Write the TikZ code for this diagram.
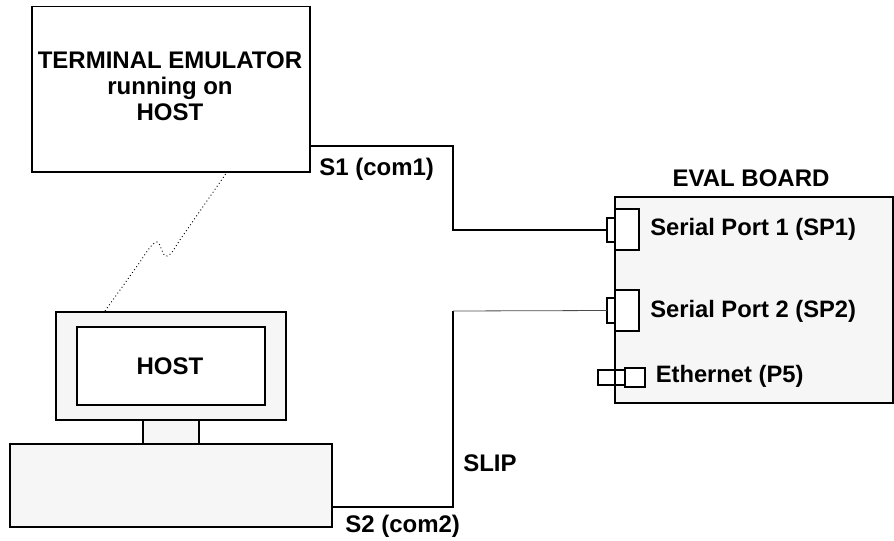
\documentclass[tikz,border=0pt]{standalone}
\usepackage{fontspec}
\setmainfont{Liberation Sans}
\tikzset{
  px/.style={x=0.75pt,y=-0.75pt},
  graybox/.style={draw=black,line width=1pt,fill=black!3.5,inner sep=0pt,outer sep=0pt},
  whitebox/.style={draw=black,line width=1pt,fill=white,inner sep=0pt,outer sep=0pt},
  wire/.style={draw=black,line width=1pt},
  thinwire/.style={draw=black!70,line width=0.6pt},
  lbl/.style={font=\fontsize{18}{19.5}\selectfont\bfseries,inner sep=0pt,text=black},
  lblsm/.style={font=\fontsize{17.8}{19.5}\selectfont\bfseries,inner sep=0pt,text=black},
}
\newcommand{\bx}[6]{\node[#1,minimum width=#4*0.75pt,minimum height=#5*0.75pt,anchor=north west] (#2) at (#3) {#6};}
\begin{document}
\begin{tikzpicture}[px]
\useasboundingbox (0,0) rectangle (894,540);
\bx{whitebox}{term}{32,6.5}{278}{165.5}{}
\bx{graybox}{board}{615,197}{278}{206}{}
\bx{graybox}{mon}{56,312}{230}{108}{}
\bx{whitebox}{screen}{77,327}{188}{78}{}
\bx{graybox}{neck}{143,420}{56}{24}{}
\bx{graybox}{base}{10,444}{322}{83}{}
\bx{whitebox}{smallA}{607,218}{8}{24}{}
\bx{whitebox}{bigA}{615,209}{24}{41}{}
\bx{whitebox}{smallB}{607,298}{8}{25}{}
\bx{whitebox}{bigB}{615,290}{24}{41}{}
\bx{whitebox}{ethA}{598,370}{27}{15}{}
\bx{whitebox}{ethB}{625,368}{20}{19}{}
\draw[wire] (board.west |- ethA.north) -- (board.west |- ethA.south);
\coordinate (c1) at (310,146);
\coordinate (c2) at (332,507);
\draw[wire] (c1) -| (453,230) -- (smallA.west);
\draw[wire] (c2) -| (453,311);
\draw[thinwire] (453,311) -- (smallB.west);
\coordinate (d1) at (105,311);
\coordinate (d2) at (227,172);
\draw[black,line width=0.7pt,dotted] (d1) -- (140,262) .. controls (148,250) and (152,243) .. (157,242) .. controls (161,243) and (162,257) .. (167,256) .. controls (172,255) and (176,245) .. (182,237) -- (d2);
\node[lbl,align=center] (t1) at (170,86) {TERMINAL EMULATOR\\running on\\HOST};
\node[lbl] (t2) at (170,366) {HOST};
\node[lbl,anchor=west] (t3) at (319,169) {S1 (com1)};
\node[lbl,anchor=west] (t4) at (345,526) {S2 (com2)};
\node[lbl,anchor=west] (t5) at (463,463) {SLIP};
\node[lbl] (t6) at (751,178) {EVAL BOARD};
\node[lblsm,anchor=west] (t7) at (650,229) {Serial Port 1 (SP1)};
\node[lblsm,anchor=west] (t8) at (650,311) {Serial Port 2 (SP2)};
\node[lblsm,anchor=west] (t9) at (655.5,376) {Ethernet (P5)};
\end{tikzpicture}
\end{document}
